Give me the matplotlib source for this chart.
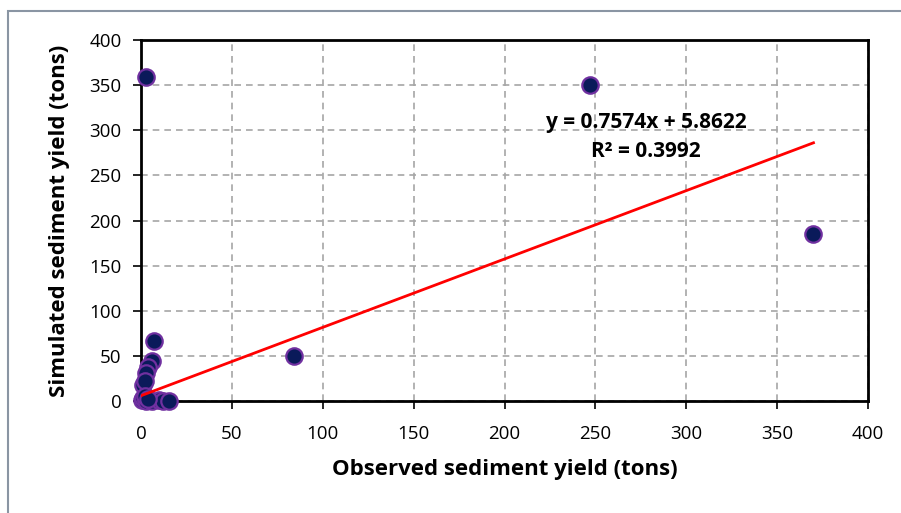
import matplotlib
matplotlib.use("Agg")
import matplotlib.pyplot as plt
from matplotlib.patches import Rectangle

plt.rcParams['font.family'] = ['Open Sans', 'DejaVu Sans']

observed = [3, 247, 370, 84, 7, 6, 4, 2.6, 1.3, 2, 0.4, 1, 3, 6, 10, 12, 15.5, 2, 4]
simulated = [359, 350, 185, 50, 67, 44, 38, 31, 18, 22, 1, 3, 0.5, 0.5, 1, 0.5, 0.5, 5, 2]

slope = 0.7574
intercept = 5.8622
r2 = 0.3992

xticks = [0, 50, 100, 150, 200, 250, 300, 350, 400]
yticks = [0, 50, 100, 150, 200, 250, 300, 350, 400]

fig = plt.figure(figsize=(9.01, 5.13), dpi=100)
fig.patches.append(Rectangle((8/901, -0.1), 1.2, 1 - 11/513 + 0.1, transform=fig.transFigure,
                             fill=False, edgecolor='#8a95a3', linewidth=1.5))
ax = fig.add_axes([141/901, 1 - 401/513, (868-141)/901, (401-40)/513])

ax.scatter(observed, simulated, s=140, facecolor='#0a1a5a', edgecolor='#7030A0',
           linewidth=1.6, zorder=3, clip_on=False)
xs = [min(observed), max(observed)]
ax.plot(xs, [slope*x + intercept for x in xs], color='#ff0000', linewidth=2.0, zorder=4)

ax.set_xlim(0, 400)
ax.set_ylim(0, 400)
ax.set_xticks(xticks)
ax.set_yticks(yticks)
ax.tick_params(axis='both', direction='out', length=6, width=1.2, labelsize=13.5, colors='black')
ax.tick_params(axis='x', pad=11)
ax.tick_params(axis='y', pad=8)
ax.grid(True, linestyle=(0, (4, 3)), color='#a6a6a6', linewidth=1.2)
ax.set_axisbelow(True)
for s in ax.spines.values():
    s.set_linewidth(2)
    s.set_color('black')

ax.set_xlabel('Observed sediment yield (tons)', fontsize=16, fontweight='bold')
ax.set_ylabel('Simulated sediment yield (tons)', fontsize=16, fontweight='bold')
ax.xaxis.set_label_coords(0.5, -(470 - 401) / 361, transform=ax.transAxes)
ax.yaxis.set_label_coords(-(141 - 60) / 727, 0.5, transform=ax.transAxes)
ax.xaxis.label.set_va('center')
ax.yaxis.label.set_va('center')

ax.text(278, 309, f'y = {slope}x + {intercept}', ha='center', va='center',
        fontsize=15, fontweight='bold')
ax.text(278, 276, f'R² = {r2}', ha='center', va='center', fontsize=15, fontweight='bold')

fig.savefig('out.png', dpi=100)
